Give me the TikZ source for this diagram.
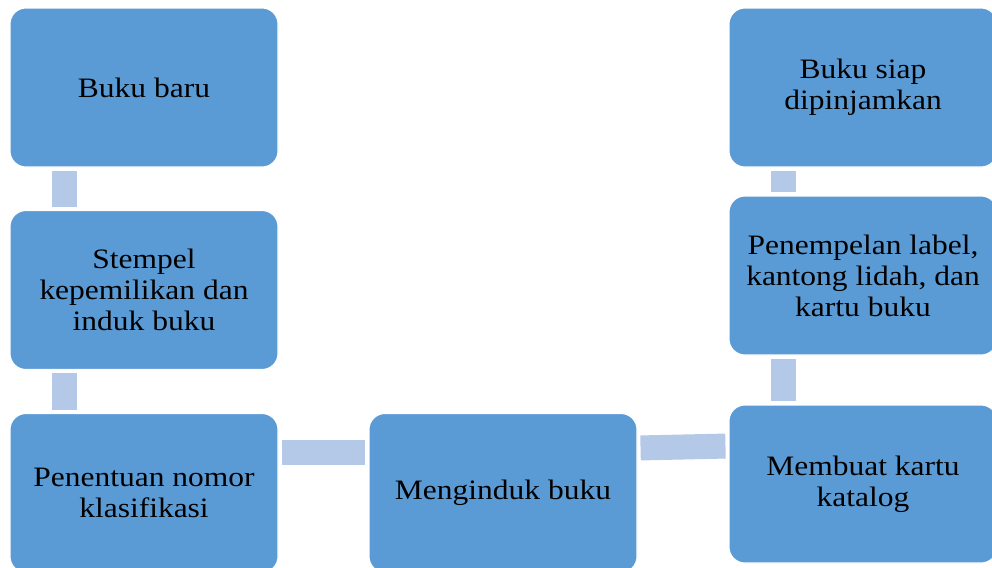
\documentclass[tikz,border=0pt]{standalone}
\usepackage{fontspec}
\setmainfont{Liberation Serif}[FakeStretch=1.12]
\definecolor{boxblue}{HTML}{5B9BD5}
\definecolor{linkblue}{HTML}{B4C8E7}
\tikzset{
  stepbox/.style={draw=white, line width=0.6pt, fill=boxblue, rounded corners=0.32cm,
    minimum width=5.36cm, minimum height=3.18cm, align=center, text=black,
    font=\fontsize{16}{17.6}\selectfont},
  link/.style={draw=linkblue, line width=0.5cm, shorten <=0.06cm, shorten >=0.06cm}
}
\begin{document}
\begin{tikzpicture}
  \useasboundingbox (0,0) rectangle (19.84,-11.34);
  \node[stepbox] (baru) at (2.88,-1.75) {Buku baru};
  \node[stepbox] (stempel) at (2.88,-5.8) {Stempel\\kepemilikan dan\\induk buku};
  \node[stepbox] (nomor) at (2.88,-9.86) {Penentuan nomor\\klasifikasi};
  \node[stepbox] (induk) at (10.06,-9.86) {Menginduk buku};
  \node[stepbox, minimum height=3.16cm] (katalog) at (17.26,-9.68) {Membuat kartu\\katalog};
  \node[stepbox] (label) at (17.26,-5.51) {Penempelan label,\\kantong lidah, dan\\kartu buku};
  \node[stepbox] (siap) at (17.26,-1.75) {Buku siap\\dipinjamkan};
  \foreach \a/\b in {baru/stempel,stempel/nomor,siap/label,label/katalog}{
    \draw[link] ([xshift=-1.59cm]\a.south) -- ([xshift=-1.59cm]\b.north);
  }
  \draw[link] ([yshift=0.82cm]nomor.east) -- ([yshift=0.82cm]induk.west);
  \draw[link] ([yshift=0.9cm]induk.east) -- ([yshift=0.76cm]katalog.west);
\end{tikzpicture}
\end{document}
